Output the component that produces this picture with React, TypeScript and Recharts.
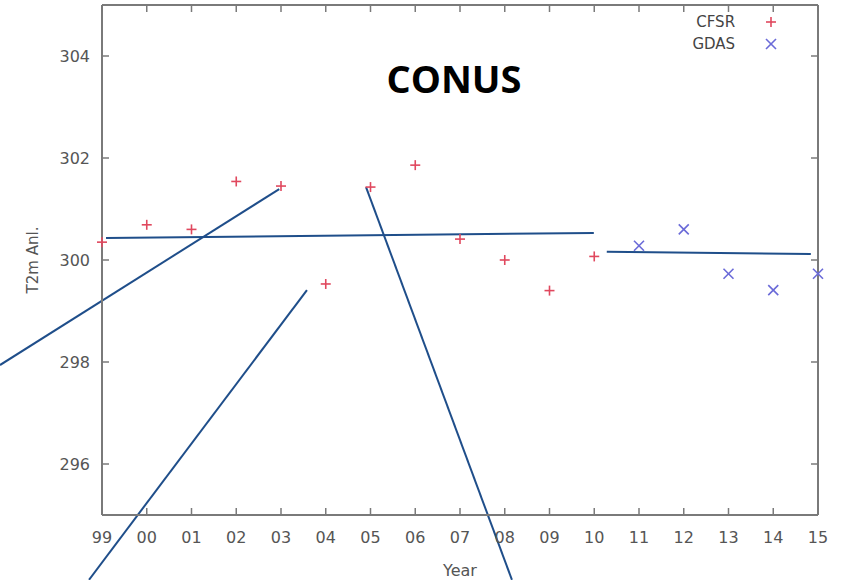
import { ScatterChart, Scatter, XAxis, YAxis, ReferenceLine, Label } from 'recharts';

// year labels along the x axis (index 0 = 1999)
const YEAR_LABELS = ['99', '00', '01', '02', '03', '04', '05', '06', '07', '08', '09', '10', '11', '12', '13', '14', '15'];

// CFSR T2m analysis, 1999-2010
const CFSR_VALUES = [300.35, 300.69, 300.6, 301.54, 301.45, 299.53, 301.43, 301.86, 300.41, 300.0, 299.4, 300.07];

// GDAS T2m analysis, 2011-2015 (index 12 = 2011)
const GDAS_START = 12;
const GDAS_VALUES = [300.28, 300.6, 299.73, 299.41, 299.73];

const Y_TICKS = [296, 298, 300, 302, 304];

// hand drawn annotation strokes, in data units [x (year index), y (K)]
const ANNOTATIONS = [
  [[-2.28, 297.94], [3.96, 301.39]],
  [[-0.29, 293.73], [4.58, 299.41]],
  [[5.9, 301.43], [9.16, 293.73]],
  [[0.09, 300.43], [10.99, 300.53]],
  [[11.28, 300.16], [15.84, 300.12]],
];

const W = 841;
const H = 580;
const PLOT_LEFT = 102;
const PLOT_RIGHT = 818;
const PLOT_TOP = 5;
const PLOT_BOTTOM = 515;
const TICK_LEN = 7;
const FRAME = '#7a7a7a';
const TEXT = '#555';
const FONT = '"DejaVu Sans", sans-serif';

const CFSR_COLOR = '#e0485e';
const GDAS_COLOR = '#6a6ad8';

const cfsrData = CFSR_VALUES.map((y, i) => ({ x: i, y }));
const gdasData = GDAS_VALUES.map((y, i) => ({ x: i + GDAS_START, y }));
const xTicks = YEAR_LABELS.map((_, i) => i);

const Plus = (props: any) => {
  const { cx, cy } = props;
  return (
    <g stroke={CFSR_COLOR} strokeWidth={1.6}>
      <line x1={cx - 5} y1={cy} x2={cx + 5} y2={cy} />
      <line x1={cx} y1={cy - 5} x2={cx} y2={cy + 5} />
    </g>
  );
};

const Cross = (props: any) => {
  const { cx, cy } = props;
  return (
    <g stroke={GDAS_COLOR} strokeWidth={1.6}>
      <line x1={cx - 5} y1={cy - 5} x2={cx + 5} y2={cy + 5} />
      <line x1={cx - 5} y1={cy + 5} x2={cx + 5} y2={cy - 5} />
    </g>
  );
};

const XTick = (props: any) => {
  const { x, payload } = props;
  return (
    <g>
      <line x1={x} y1={PLOT_BOTTOM} x2={x} y2={PLOT_BOTTOM - TICK_LEN} stroke={FRAME} strokeWidth={1.5} />
      <line x1={x} y1={PLOT_TOP} x2={x} y2={PLOT_TOP + TICK_LEN} stroke={FRAME} strokeWidth={1.5} />
      <text x={x} y={543} textAnchor="middle" fill={TEXT} fontSize={16} fontFamily={FONT}>
        {YEAR_LABELS[payload.value]}
      </text>
    </g>
  );
};

const YTick = (props: any) => {
  const { y, payload } = props;
  return (
    <g>
      <line x1={PLOT_LEFT} y1={y} x2={PLOT_LEFT + TICK_LEN} y2={y} stroke={FRAME} strokeWidth={1.5} />
      <line x1={PLOT_RIGHT} y1={y} x2={PLOT_RIGHT - TICK_LEN} y2={y} stroke={FRAME} strokeWidth={1.5} />
      <text x={90} y={y + 6} textAnchor="end" fill={TEXT} fontSize={16} fontFamily={FONT}>
        {payload.value}
      </text>
    </g>
  );
};

const legendItems = [
  { name: 'CFSR', Marker: Plus },
  { name: 'GDAS', Marker: Cross },
];

export default function App() {
  return (
    <div style={{ position: 'absolute', left: 0, top: 0, width: W, height: H, background: '#fff' }}>
      <ScatterChart
        width={W}
        height={H}
        margin={{ top: PLOT_TOP, right: W - PLOT_RIGHT, bottom: 0, left: 0 }}
      >
        <XAxis
          type="number"
          dataKey="x"
          domain={[0, 16]}
          ticks={xTicks}
          interval={0}
          height={H - PLOT_BOTTOM}
          axisLine={{ stroke: FRAME, strokeWidth: 2 }}
          tickLine={false}
          tick={XTick}
        >
          <Label value="Year" position="insideBottom" offset={4} fill={TEXT} fontSize={16} fontFamily={FONT} />
        </XAxis>
        <YAxis
          type="number"
          dataKey="y"
          domain={[295, 305]}
          ticks={Y_TICKS}
          interval={0}
          width={PLOT_LEFT}
          axisLine={{ stroke: FRAME, strokeWidth: 2 }}
          tickLine={false}
          tick={YTick}
        >
          <Label value="T2m Anl." angle={-90} position="center" dx={-18} fill={TEXT} fontSize={15} fontFamily={FONT} />
        </YAxis>
        <ReferenceLine y={305} stroke={FRAME} strokeWidth={2} />
        <ReferenceLine x={16} stroke={FRAME} strokeWidth={2} />
        <Scatter name="CFSR" data={cfsrData} shape={Plus} isAnimationActive={false} />
        <Scatter name="GDAS" data={gdasData} shape={Cross} isAnimationActive={false} />
        {ANNOTATIONS.map((seg, i) => (
          <ReferenceLine
            key={i}
            segment={seg.map(([x, y]) => ({ x, y }))}
            stroke="#1f4e8a"
            strokeWidth={2}
            ifOverflow="visible"
          />
        ))}
      </ScatterChart>
      <div
        style={{
          position: 'absolute',
          left: 0,
          width: 908,
          top: 59,
          textAlign: 'center',
          fontFamily: '"Open Sans", sans-serif',
          fontWeight: 700,
          fontSize: 38,
          lineHeight: 1,
          color: '#000',
        }}
      >
        CONUS
      </div>
      <div style={{ position: 'absolute', left: 656, top: 11, width: 130 }}>
        {legendItems.map(({ name, Marker }) => (
          <div key={name} style={{ display: 'flex', alignItems: 'center', height: 22 }}>
            <span
              style={{
                width: 82,
                textAlign: 'right',
                fontFamily: FONT,
                fontSize: 15,
                color: '#444',
              }}
            >
              {name}
            </span>
            <svg width={30} height={22} style={{ marginLeft: 22 }}>
              <Marker cx={14} cy={11} />
            </svg>
          </div>
        ))}
      </div>
    </div>
  );
}
